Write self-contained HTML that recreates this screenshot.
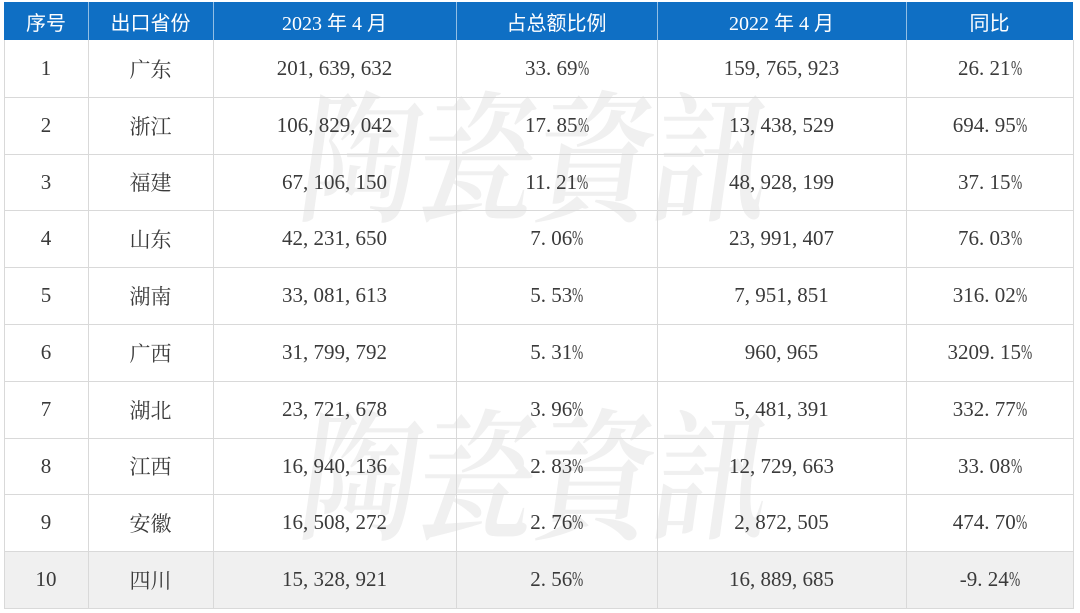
<!DOCTYPE html>
<html><head><meta charset="utf-8">
<style>
html,body{margin:0;padding:0;background:#fff;}
body{width:1080px;height:613px;position:relative;overflow:hidden;}
.wm{position:absolute;left:314px;font-family:"Noto Serif CJK TC","Noto Serif CJK SC",serif;font-weight:600;font-size:118px;line-height:1;color:#f0f0f0;letter-spacing:-1px;transform:skewX(-8deg) scaleY(1.2);transform-origin:left top;white-space:nowrap;z-index:0;}
.hdr{position:absolute;left:4px;top:2px;width:1069px;height:38px;background:#0f6fc4;z-index:1;}
.last{position:absolute;left:4px;top:551px;width:1069px;height:57px;background:#f0f0f0;z-index:0;}
.h{position:absolute;height:1px;background:#d9d9d9;left:4px;width:1070px;z-index:2;}
.v{position:absolute;width:1px;background:#d9d9d9;top:40px;height:569px;z-index:2;}
.hv{position:absolute;width:1px;background:rgba(255,255,255,.55);top:2px;height:38px;z-index:3;}
.row{position:absolute;left:4px;width:1069px;z-index:3;}
.c{position:absolute;top:0;height:100%;display:flex;align-items:center;justify-content:center;white-space:nowrap;}
.hd .c{color:#fff;font-family:"Liberation Serif","Noto Sans CJK SC",sans-serif;font-size:20px;}
.hd .cj{font-family:"Noto Sans CJK SC",sans-serif;}
.bd .c{color:#3a3a3a;font-family:"Liberation Serif","Noto Serif CJK SC",serif;font-size:21px;}
.bd .zh{font-family:"Noto Serif CJK SC",serif;}
i{font-style:normal;display:inline-block;width:10.5px;text-align:left;}
b{font-weight:normal;display:inline-block;width:10.5px;transform:scaleX(.64);transform-origin:left center;}
.c1{left:0;width:84px}.c2{left:84px;width:125px}.c3{left:209px;width:243px}
.c4{left:452px;width:201px}.c5{left:653px;width:249px}.c6{left:902px;width:167px}
</style></head><body>
<div class="wm" style="top:78px;">陶瓷資訊</div>
<div class="wm" style="top:396px;">陶瓷資訊</div>
<div class="hdr"></div>
<div class="last"></div>

<div class="hv" style="left:88px"></div>
<div class="hv" style="left:213px"></div>
<div class="hv" style="left:456px"></div>
<div class="hv" style="left:657px"></div>
<div class="hv" style="left:906px"></div>

<div class="v" style="left:4px"></div>
<div class="v" style="left:88px"></div>
<div class="v" style="left:213px"></div>
<div class="v" style="left:456px"></div>
<div class="v" style="left:657px"></div>
<div class="v" style="left:906px"></div>
<div class="v" style="left:1073px"></div>

<div class="h" style="top:97px"></div>
<div class="h" style="top:154px"></div>
<div class="h" style="top:210px"></div>
<div class="h" style="top:267px"></div>
<div class="h" style="top:324px"></div>
<div class="h" style="top:381px"></div>
<div class="h" style="top:438px"></div>
<div class="h" style="top:494px"></div>
<div class="h" style="top:551px"></div>
<div class="h" style="top:608px"></div>

<div class="row hd" style="top:2px;height:38px">
<div class="c c1 cj">序号</div><div class="c c2 cj">出口省份</div>
<div class="c c3">2023 年 4 月</div><div class="c c4 cj">占总额比例</div>
<div class="c c5">2022 年 4 月</div><div class="c c6 cj">同比</div>
</div>

<div class="row bd" style="top:40px;height:57px"><div class="c c1">1</div><div class="c c2 zh">广东</div><div class="c c3">201<i>,</i>639<i>,</i>632</div><div class="c c4">33<i>.</i>69<b>%</b></div><div class="c c5">159<i>,</i>765<i>,</i>923</div><div class="c c6">26<i>.</i>21<b>%</b></div></div>
<div class="row bd" style="top:97px;height:57px"><div class="c c1">2</div><div class="c c2 zh">浙江</div><div class="c c3">106<i>,</i>829<i>,</i>042</div><div class="c c4">17<i>.</i>85<b>%</b></div><div class="c c5">13<i>,</i>438<i>,</i>529</div><div class="c c6">694<i>.</i>95<b>%</b></div></div>
<div class="row bd" style="top:154px;height:56px"><div class="c c1">3</div><div class="c c2 zh">福建</div><div class="c c3">67<i>,</i>106<i>,</i>150</div><div class="c c4">11<i>.</i>21<b>%</b></div><div class="c c5">48<i>,</i>928<i>,</i>199</div><div class="c c6">37<i>.</i>15<b>%</b></div></div>
<div class="row bd" style="top:210px;height:57px"><div class="c c1">4</div><div class="c c2 zh">山东</div><div class="c c3">42<i>,</i>231<i>,</i>650</div><div class="c c4">7<i>.</i>06<b>%</b></div><div class="c c5">23<i>,</i>991<i>,</i>407</div><div class="c c6">76<i>.</i>03<b>%</b></div></div>
<div class="row bd" style="top:267px;height:57px"><div class="c c1">5</div><div class="c c2 zh">湖南</div><div class="c c3">33<i>,</i>081<i>,</i>613</div><div class="c c4">5<i>.</i>53<b>%</b></div><div class="c c5">7<i>,</i>951<i>,</i>851</div><div class="c c6">316<i>.</i>02<b>%</b></div></div>
<div class="row bd" style="top:324px;height:57px"><div class="c c1">6</div><div class="c c2 zh">广西</div><div class="c c3">31<i>,</i>799<i>,</i>792</div><div class="c c4">5<i>.</i>31<b>%</b></div><div class="c c5">960<i>,</i>965</div><div class="c c6">3209<i>.</i>15<b>%</b></div></div>
<div class="row bd" style="top:381px;height:57px"><div class="c c1">7</div><div class="c c2 zh">湖北</div><div class="c c3">23<i>,</i>721<i>,</i>678</div><div class="c c4">3<i>.</i>96<b>%</b></div><div class="c c5">5<i>,</i>481<i>,</i>391</div><div class="c c6">332<i>.</i>77<b>%</b></div></div>
<div class="row bd" style="top:438px;height:56px"><div class="c c1">8</div><div class="c c2 zh">江西</div><div class="c c3">16<i>,</i>940<i>,</i>136</div><div class="c c4">2<i>.</i>83<b>%</b></div><div class="c c5">12<i>,</i>729<i>,</i>663</div><div class="c c6">33<i>.</i>08<b>%</b></div></div>
<div class="row bd" style="top:494px;height:57px"><div class="c c1">9</div><div class="c c2 zh">安徽</div><div class="c c3">16<i>,</i>508<i>,</i>272</div><div class="c c4">2<i>.</i>76<b>%</b></div><div class="c c5">2<i>,</i>872<i>,</i>505</div><div class="c c6">474<i>.</i>70<b>%</b></div></div>
<div class="row bd" style="top:551px;height:57px"><div class="c c1">10</div><div class="c c2 zh">四川</div><div class="c c3">15<i>,</i>328<i>,</i>921</div><div class="c c4">2<i>.</i>56<b>%</b></div><div class="c c5">16<i>,</i>889<i>,</i>685</div><div class="c c6">-9<i>.</i>24<b>%</b></div></div>
</body></html>
